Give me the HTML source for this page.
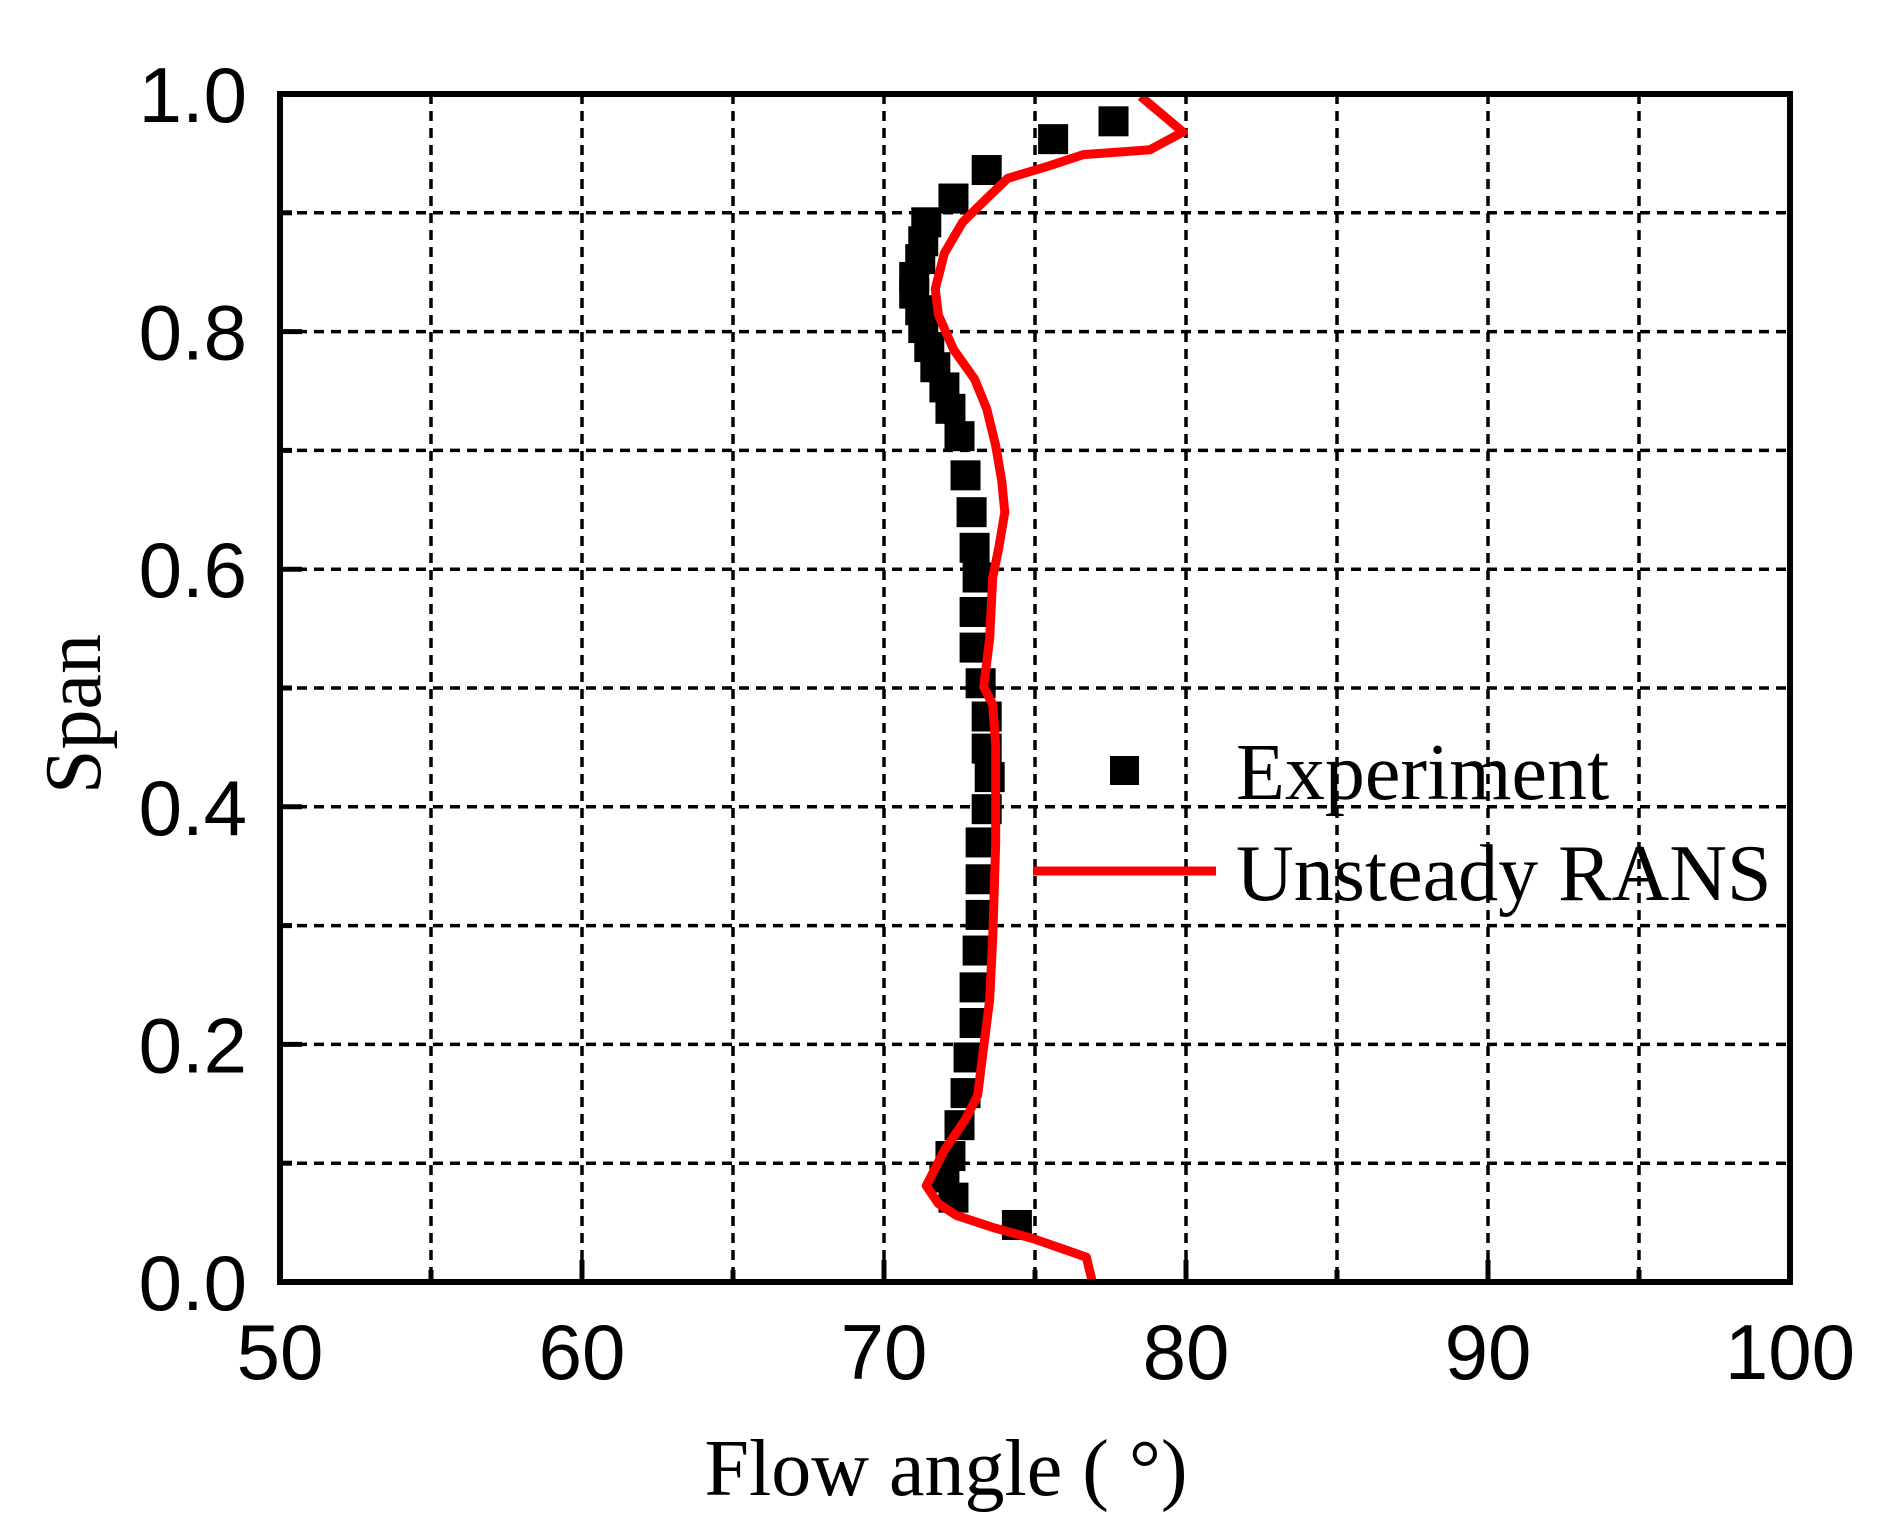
<!DOCTYPE html>
<html><head><meta charset="utf-8"><style>
html,body{margin:0;padding:0;background:#fff;}
svg{display:block;}
.tick{font-family:"Liberation Sans",Arial,sans-serif;font-size:78px;fill:#000;}
.serif{font-family:"Liberation Serif","Times New Roman",serif;fill:#000;}
</style></head><body>
<svg id="chart" width="1888" height="1531" viewBox="0 0 1888 1531" xmlns="http://www.w3.org/2000/svg">
<g id="grid"></g>
<g id="ticks"></g>
<g id="labels"></g>
<g id="series"></g>
<rect x="280" y="94" width="1510" height="1188" fill="none" stroke="#000" stroke-width="6"/>
<text class="serif" x="946" y="1495" font-size="80" text-anchor="middle">Flow angle ( °)</text>
<text class="serif" font-size="80" text-anchor="middle" transform="translate(100,714) rotate(-90)">Span</text>
<g>
<rect x="1110" y="756" width="29" height="29" fill="#000"/>
<text class="serif" x="1236" y="799" font-size="80">Experiment</text>
<line x1="1033" y1="871" x2="1216" y2="871" stroke="#f00" stroke-width="9"/>
<text class="serif" x="1236" y="900" font-size="80">Unsteady RANS</text>
</g>
</svg>
<script>
const xTicks=[50,60,70,80,90,100];
const yTicks=[0.0,0.2,0.4,0.6,0.8,1.0];
const xGrid=[55,60,65,70,75,80,85,90,95];
const yGrid=[0.1,0.2,0.3,0.4,0.5,0.6,0.7,0.8,0.9];
const expAngle=[77.6,75.6,73.4,72.3,71.4,71.3,71.2,71.0,71.0,71.2,71.3,71.5,71.7,72.0,72.2,72.5,72.7,72.9,73.0,73.1,73.0,73.0,73.2,73.4,73.4,73.5,73.4,73.2,73.2,73.2,73.1,73.0,73.0,72.8,72.7,72.5,72.2,72.0,72.3,74.4];
const expSpan=[0.977,0.962,0.936,0.912,0.892,0.876,0.861,0.846,0.832,0.818,0.803,0.787,0.770,0.753,0.735,0.712,0.679,0.648,0.618,0.593,0.564,0.534,0.504,0.476,0.449,0.425,0.398,0.370,0.339,0.309,0.279,0.248,0.218,0.189,0.159,0.132,0.106,0.088,0.071,0.048];
const ransAngle=[78.5,79.9,78.8,76.6,75.4,74.1,73.4,72.6,72.0,71.7,71.8,72.3,73.0,73.4,73.7,73.9,74.0,73.8,73.6,73.5,73.3,73.6,73.7,73.7,73.6,73.5,73.3,73.1,72.7,72.0,71.4,71.8,72.4,73.6,75.0,76.7,76.9];
const ransSpan=[0.998,0.968,0.953,0.949,0.939,0.929,0.912,0.892,0.866,0.836,0.814,0.785,0.760,0.735,0.704,0.674,0.648,0.618,0.593,0.542,0.501,0.486,0.451,0.370,0.289,0.238,0.198,0.157,0.137,0.111,0.081,0.066,0.056,0.046,0.036,0.021,0.0];
const L=280,R=1790,T=94,B=1282;
const sx=v=>L+(v-50)/50*(R-L);
const sy=v=>B-v*(B-T);
const NS="http://www.w3.org/2000/svg";
function mk(tag,attrs,parent){const e=document.createElementNS(NS,tag);for(const k in attrs)e.setAttribute(k,attrs[k]);parent.appendChild(e);return e;}
const grid=document.getElementById('grid'),ticks=document.getElementById('ticks'),labels=document.getElementById('labels'),series=document.getElementById('series');
xGrid.forEach(v=>{const e=mk('line',{x1:sx(v),x2:sx(v),y1:T,y2:B,stroke:'#000','stroke-width':3.5,'stroke-dasharray':'10 7'},grid);


const t=mk('line',{x1:sx(v),x2:sx(v),y1:B,y2:B-(v%10===0?22:12),stroke:'#000','stroke-width':5},ticks);

});
yGrid.forEach(v=>{const e=mk('line',{x1:L,x2:R,y1:sy(v),y2:sy(v),stroke:'#000','stroke-width':3.5,'stroke-dasharray':'10 7'},grid);


const t=mk('line',{x1:L,x2:L+(Math.round(v*10)%2===0?22:12),y1:sy(v),y2:sy(v),stroke:'#000','stroke-width':5},ticks);

});
xTicks.forEach(v=>{const e=mk('text',{x:sx(v),y:1379,'text-anchor':'middle',class:'tick'},labels);e.textContent=String(v);

});
yTicks.forEach(v=>{const e=mk('text',{x:247,y:sy(v)+28,'text-anchor':'end',class:'tick'},labels);e.textContent=v.toFixed(1);

});
expAngle.forEach((a,i)=>{const e=mk('rect',{x:sx(a)-15,y:sy(expSpan[i])-15,width:30,height:30,fill:'#000'},series);

});
const pts=ransAngle.map((a,i)=>sx(a).toFixed(1)+','+sy(ransSpan[i]).toFixed(1)).join(' ');
const pl=mk('polyline',{points:pts,fill:'none',stroke:'#f00','stroke-width':9,'stroke-linejoin':'round'},series);


</script>
</body></html>
